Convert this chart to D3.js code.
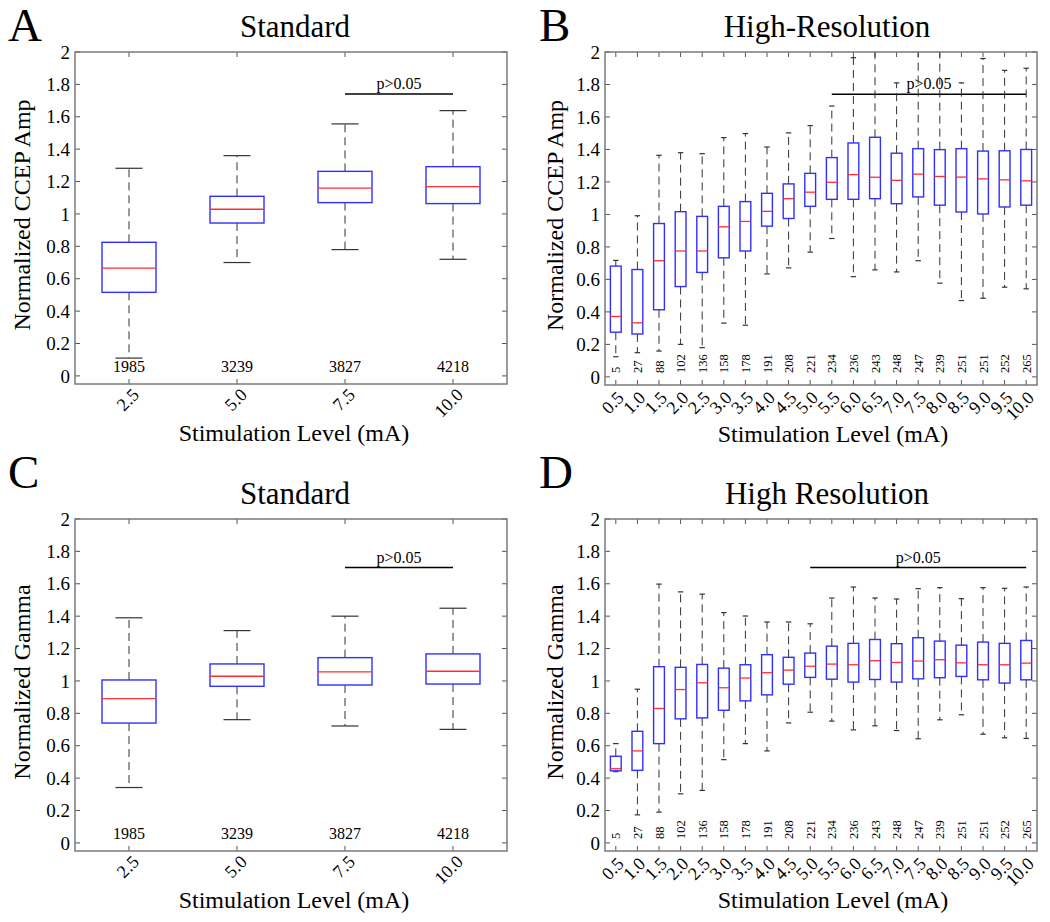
<!DOCTYPE html>
<html>
<head>
<meta charset="utf-8">
<script src="https://cdn.jsdelivr.net/npm/d3@7"></script>
<style>
  html, body { margin: 0; padding: 0; background: #fff; }
  svg { display: block; }
  text { font-family: "Liberation Serif", "Times New Roman", serif; fill: #000; }
</style>
</head>
<body>
<svg id="chart" width="1050" height="922"></svg>
<script>
// ---------------- DATA ----------------
const stdLevels = ["2.5", "5.0", "7.5", "10.0"];
const stdCounts = [1985, 3239, 3827, 4218];

const hrLevels = ["0.5", "1.0", "1.5", "2.0", "2.5", "3.0", "3.5", "4.0", "4.5", "5.0",
                  "5.5", "6.0", "6.5", "7.0", "7.5", "8.0", "8.5", "9.0", "9.5", "10.0"];
const hrCounts = [5, 27, 88, 102, 136, 158, 178, 191, 208, 221,
                  234, 236, 243, 248, 247, 239, 251, 251, 252, 265];

const yTicks = [0, 0.2, 0.4, 0.6, 0.8, 1, 1.2, 1.4, 1.6, 1.8, 2];

// Panel A: Standard, Normalized CCEP Amp
const ampStdLow  = [0.11, 0.70, 0.78, 0.72];
const ampStdQ1   = [0.516, 0.944, 1.070, 1.064];
const ampStdMed  = [0.665, 1.029, 1.160, 1.169];
const ampStdQ3   = [0.825, 1.109, 1.263, 1.292];
const ampStdHigh = [1.282, 1.360, 1.556, 1.638];

// Panel B: High-Resolution, Normalized CCEP Amp
const ampHrLow  = [0.124, 0.149, 0.159, 0.200, 0.180, 0.331, 0.318, 0.634, 0.671, 0.768,
                   0.852, 0.617, 0.659, 0.646, 0.715, 0.577, 0.470, 0.484, 0.552, 0.542];
const ampHrQ1   = [0.275, 0.264, 0.413, 0.556, 0.643, 0.733, 0.775, 0.928, 0.975, 1.050,
                   1.093, 1.093, 1.097, 1.066, 1.108, 1.057, 1.015, 1.003, 1.046, 1.057];
const ampHrMed  = [0.372, 0.333, 0.715, 0.775, 0.775, 0.924, 0.957, 1.019, 1.097, 1.137,
                   1.198, 1.245, 1.229, 1.210, 1.248, 1.234, 1.230, 1.219, 1.213, 1.207];
const ampHrQ3   = [0.682, 0.661, 0.944, 1.017, 0.988, 1.050, 1.079, 1.130, 1.188, 1.253,
                   1.350, 1.440, 1.475, 1.377, 1.405, 1.399, 1.405, 1.390, 1.392, 1.400];
const ampHrHigh = [0.717, 0.992, 1.364, 1.380, 1.374, 1.473, 1.498, 1.415, 1.502, 1.547,
                   1.667, 1.965, 2.100, 1.810, 2.100, 2.100, 1.810, 1.960, 1.887, 1.900];

// Panel C: Standard, Normalized Gamma
const gamStdLow  = [0.342, 0.761, 0.722, 0.701];
const gamStdQ1   = [0.740, 0.967, 0.975, 0.981];
const gamStdMed  = [0.891, 1.029, 1.056, 1.060];
const gamStdQ3   = [1.006, 1.105, 1.144, 1.167];
const gamStdHigh = [1.390, 1.311, 1.400, 1.449];

// Panel D: High Resolution, Normalized Gamma
const gamHrLow  = [0.440, 0.173, 0.190, 0.303, 0.324, 0.514, 0.613, 0.568, 0.741, 0.807,
                   0.752, 0.698, 0.723, 0.694, 0.643, 0.760, 0.791, 0.671, 0.649, 0.645];
const gamHrQ1   = [0.445, 0.448, 0.613, 0.766, 0.772, 0.819, 0.877, 0.914, 0.980, 1.022,
                   1.011, 0.993, 1.009, 0.993, 1.013, 1.020, 1.028, 1.007, 0.987, 1.007];
const gamHrMed  = [0.458, 0.568, 0.830, 0.947, 0.989, 0.958, 1.018, 1.051, 1.067, 1.091,
                   1.104, 1.100, 1.125, 1.114, 1.123, 1.131, 1.112, 1.100, 1.100, 1.110];
const gamHrQ3   = [0.535, 0.689, 1.088, 1.084, 1.102, 1.079, 1.100, 1.162, 1.146, 1.172,
                   1.215, 1.232, 1.256, 1.230, 1.267, 1.246, 1.221, 1.240, 1.232, 1.250];
const gamHrHigh = [0.613, 0.949, 1.598, 1.550, 1.536, 1.422, 1.401, 1.364, 1.364, 1.353,
                   1.512, 1.580, 1.512, 1.506, 1.570, 1.576, 1.508, 1.576, 1.572, 1.580];

// ---------------- DRAWING ----------------
const svg = d3.select("#chart");
const fmtTick = v => String(+v.toFixed(1));

function drawPanel(cfg) {
  const { left, top, width, height, letter, title, ylabel, levels, counts,
          low, q1, med, q3, high, sig, hr, id } = cfg;
  const bottom = top + height;

  const x = d3.scaleBand().domain(levels).range([left, left + width]).padding(0);
  const y = d3.scaleLinear().domain([-0.05, 2]).range([bottom, top]);
  const cx = d => x(d) + x.bandwidth() / 2;
  const bw = x.bandwidth() * 0.5;
  const capW = x.bandwidth() * 0.25;

  const g = svg.append("g");

  svg.append("clipPath").attr("id", "clip" + id)
    .append("rect").attr("x", left).attr("y", top).attr("width", width).attr("height", height);

  // panel letter and title
  g.append("text").attr("x", cfg.letterX).attr("y", cfg.letterY)
    .attr("font-size", 47).text(letter);
  g.append("text").attr("x", left + width / 2 + (hr ? 6 : 4)).attr("y", top - 15)
    .attr("text-anchor", "middle").attr("font-size", 31).text(title);

  // ticks (inward, all four sides)
  const tickCol = "#555";
  const tl = 5;
  g.append("g").selectAll("line").data(yTicks).join("line")
    .attr("x1", left).attr("x2", left + tl).attr("y1", d => y(d)).attr("y2", d => y(d))
    .attr("stroke", tickCol).attr("stroke-width", 1);
  g.append("g").selectAll("line").data(yTicks).join("line")
    .attr("x1", left + width).attr("x2", left + width - tl).attr("y1", d => y(d)).attr("y2", d => y(d))
    .attr("stroke", tickCol).attr("stroke-width", 1);
  g.append("g").selectAll("line").data(levels).join("line")
    .attr("x1", d => cx(d)).attr("x2", d => cx(d)).attr("y1", bottom).attr("y2", bottom - tl)
    .attr("stroke", tickCol).attr("stroke-width", 1);
  g.append("g").selectAll("line").data(levels).join("line")
    .attr("x1", d => cx(d)).attr("x2", d => cx(d)).attr("y1", top).attr("y2", top + tl)
    .attr("stroke", tickCol).attr("stroke-width", 1);

  // y tick labels
  g.append("g").selectAll("text").data(yTicks).join("text")
    .attr("x", left - 5).attr("y", d => y(d)).attr("dy", "0.35em")
    .attr("text-anchor", "end").attr("font-size", 19).text(fmtTick);

  // x tick labels rotated
  const xo = hr ? 9 : 11, yo = hr ? 14 : 12;
  g.append("g").selectAll("text").data(levels).join("text")
    .attr("text-anchor", "end").attr("font-size", 18)
    .attr("transform", d => `translate(${cx(d) + xo},${bottom + yo}) rotate(-45)`)
    .text(d => d);

  // axis labels
  g.append("text").attr("x", left + width / 2 + (hr ? 12 : 3)).attr("y", bottom + 57)
    .attr("text-anchor", "middle").attr("font-size", 24).text("Stimulation Level (mA)");
  g.append("text")
    .attr("transform", `translate(${left - (hr ? 42 : 45)},${top + height / 2 - 3}) rotate(-90)`)
    .attr("text-anchor", "middle").attr("font-size", 24).text(ylabel);

  // significance bar
  const sx1 = cx(levels[sig.from]), sx2 = cx(levels[sig.to]);
  g.append("line").attr("x1", sx1).attr("x2", sx2).attr("y1", y(sig.y)).attr("y2", y(sig.y))
    .attr("stroke", "#000").attr("stroke-width", 1.5);
  g.append("text").attr("x", (sx1 + sx2) / 2).attr("y", y(sig.y) - 5)
    .attr("text-anchor", "middle").attr("font-size", 16).text("p>0.05");

  // counts
  if (hr) {
    g.append("g").selectAll("text").data(levels).join("text")
      .attr("transform", d => `translate(${cx(d) + 4.5},${bottom - 12}) rotate(-90)`)
      .attr("font-size", 12.5).text((d, i) => counts[i]);
  } else {
    g.append("g").selectAll("text").data(levels).join("text")
      .attr("x", d => cx(d)).attr("y", bottom - 12)
      .attr("text-anchor", "middle").attr("font-size", 16).text((d, i) => counts[i]);
  }

  // boxes
  const bx = g.append("g").attr("clip-path", `url(#clip${id})`);
  const whisk = "#333";
  levels.forEach((lv, i) => {
    const c = cx(lv);
    bx.append("line").attr("x1", c).attr("x2", c).attr("y1", y(q3[i])).attr("y2", y(high[i]))
      .attr("stroke", whisk).attr("stroke-width", 1).attr("stroke-dasharray", "8,5");
    bx.append("line").attr("x1", c).attr("x2", c).attr("y1", y(q1[i])).attr("y2", y(low[i]))
      .attr("stroke", whisk).attr("stroke-width", 1).attr("stroke-dasharray", "8,5");
    [low[i], high[i]].forEach(v => {
      bx.append("line").attr("x1", c - capW / 2).attr("x2", c + capW / 2)
        .attr("y1", y(v)).attr("y2", y(v)).attr("stroke", whisk).attr("stroke-width", 1.2);
    });
    bx.append("rect").attr("x", c - bw / 2).attr("width", bw)
      .attr("y", y(q3[i])).attr("height", y(q1[i]) - y(q3[i]))
      .attr("fill", "none").attr("stroke", "#3030ff").attr("stroke-width", 1.4);
    bx.append("line").attr("x1", c - bw / 2).attr("x2", c + bw / 2)
      .attr("y1", y(med[i])).attr("y2", y(med[i]))
      .attr("stroke", "#ff3030").attr("stroke-width", 1.3);
  });

  // frame
  g.append("rect").attr("x", left).attr("y", top).attr("width", width).attr("height", height)
    .attr("fill", "none").attr("stroke", "#7a7a7a").attr("stroke-width", 1.5);
}

drawPanel({ id: "A", left: 75, top: 52, width: 432, height: 332, letter: "A", letterX: 8, letterY: 41,
  title: "Standard", ylabel: "Normalized CCEP Amp", levels: stdLevels, counts: stdCounts,
  low: ampStdLow, q1: ampStdQ1, med: ampStdMed, q3: ampStdQ3, high: ampStdHigh,
  sig: { from: 2, to: 3, y: 1.74 }, hr: false });

drawPanel({ id: "B", left: 605, top: 52, width: 432, height: 333, letter: "B", letterX: 539, letterY: 41,
  title: "High-Resolution", ylabel: "Normalized CCEP Amp", levels: hrLevels, counts: hrCounts,
  low: ampHrLow, q1: ampHrQ1, med: ampHrMed, q3: ampHrQ3, high: ampHrHigh,
  sig: { from: 10, to: 19, y: 1.74 }, hr: true });

drawPanel({ id: "C", left: 75, top: 519, width: 432, height: 332, letter: "C", letterX: 8, letterY: 488,
  title: "Standard", ylabel: "Normalized Gamma", levels: stdLevels, counts: stdCounts,
  low: gamStdLow, q1: gamStdQ1, med: gamStdMed, q3: gamStdQ3, high: gamStdHigh,
  sig: { from: 2, to: 3, y: 1.70 }, hr: false });

drawPanel({ id: "D", left: 605, top: 519, width: 432, height: 332, letter: "D", letterX: 539, letterY: 488,
  title: "High Resolution", ylabel: "Normalized Gamma", levels: hrLevels, counts: hrCounts,
  low: gamHrLow, q1: gamHrQ1, med: gamHrMed, q3: gamHrQ3, high: gamHrHigh,
  sig: { from: 9, to: 19, y: 1.70 }, hr: true });
</script>
</body>
</html>
